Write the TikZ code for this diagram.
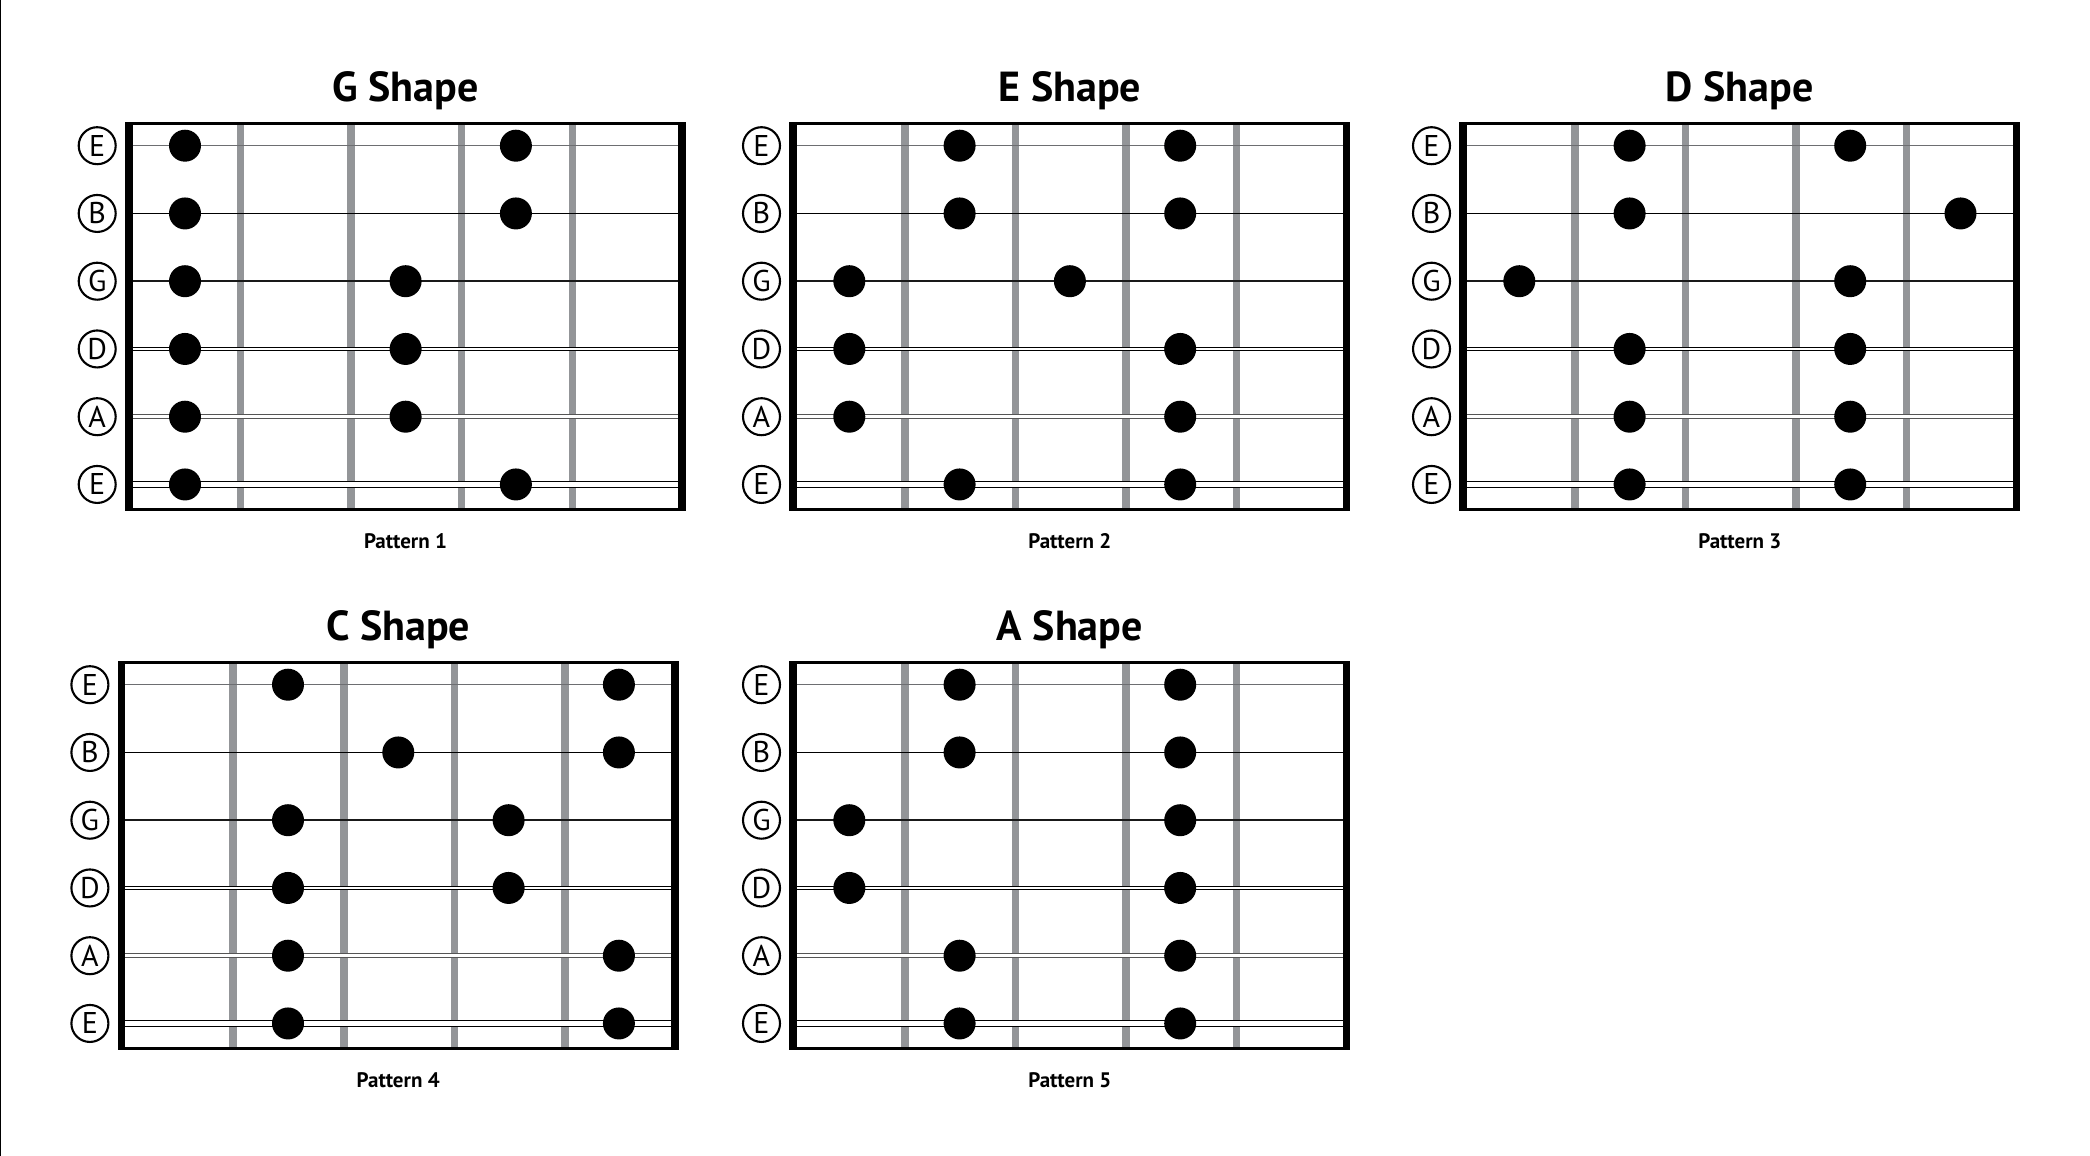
\documentclass[tikz,border=0pt]{standalone}
\usepackage{fontspec}
\setmainfont{PT Sans}
\definecolor{fretgray}{HTML}{939598}
\definecolor{strgray}{HTML}{6D6E71}
\definecolor{agray}{HTML}{555555}
\tikzset{
  fretline/.style={fretgray, line width=7.5pt},
  hiE/.style={strgray, line width=1.2pt},
  Bstr/.style={black, line width=1.8pt},
  Gstr/.style={black!90, line width=2.2pt},
  dotnode/.style={circle, fill=black, draw=none, minimum size=32pt, inner sep=0pt},
  strlab/.style={circle, draw=black, line width=2.1pt, minimum size=37pt, inner sep=0pt,
    font=\fontsize{30}{30}\selectfont},
  titlestyle/.style={font=\bfseries\fontsize{42}{42}\selectfont, inner sep=0pt},
  patstyle/.style={font=\bfseries\fontsize{21}{21}\selectfont, inner sep=0pt},
}
% #1 name, #2 x, #3 y, #4 title, #5 pattern label, #6 dots string/column
\newcommand{\fboard}[6]{%
  \begin{scope}[shift={(#2,#3)}]
    \fill[black] (0,0) rectangle (561,389);
    \fill[white] (7.6,3.3) rectangle (553.4,386);
    \foreach \k in {1,...,4}
      \draw[fretline] ({115.5+110.6*(\k-1)},3.3) -- ({115.5+110.6*(\k-1)},386);
    % strings
    \draw[hiE] (7.6,24) -- (553.4,24);
    \draw[Bstr] (7.6,91.75) -- (553.4,91.75);
    \draw[Gstr] (7.6,159.5) -- (553.4,159.5);
    \draw[black, line width=4.6pt] (7.6,227.25) -- (553.4,227.25);
    \draw[white, line width=2.4pt] (7.6,227.25) -- (553.4,227.25);
    \draw[agray, line width=5pt] (7.6,295) -- (553.4,295);
    \draw[white, line width=2.6pt] (7.6,295) -- (553.4,295);
    \draw[black, line width=7.4pt] (7.6,362.75) -- (553.4,362.75);
    \draw[white, line width=5.2pt] (7.6,362.75) -- (553.4,362.75);
    % string labels
    \foreach \i/\l in {1/E,2/B,3/G,4/D,5/A,6/E}
      \node[strlab] (#1-lab\i) at (-27.8,{24+67.75*(\i-1)}) {\l};
    % dots
    \foreach \s/\c in {#6}
      \node[dotnode] (#1-d\s\c) at ({60+110.3*(\c-1)},{24+67.75*(\s-1)}) {};
    \node[titlestyle, anchor=base] (#1-title) at (280.5,-20) {#4};
    \node[patstyle, anchor=base] (#1-pat) at (280.5,427) {#5};
  \end{scope}}
\begin{document}
\begin{tikzpicture}[x=1pt, y=-1pt]
  \fill[white] (0,0) rectangle (2090,1156);
  \useasboundingbox (0,0) rectangle (2090,1156);
  \draw[black, line width=1.2pt] (0.6,0) -- (0.6,1156);
  \fboard{g}{125}{121.7}{G Shape}{Pattern 1}{1/1,1/4,2/1,2/4,3/1,3/3,4/1,4/3,5/1,5/3,6/1,6/4}
  \fboard{e}{789.3}{121.7}{E Shape}{Pattern 2}{1/2,1/4,2/2,2/4,3/1,3/3,4/1,4/4,5/1,5/4,6/2,6/4}
  \fboard{d}{1459.3}{121.7}{D Shape}{Pattern 3}{1/2,1/4,2/2,2/5,3/1,3/4,4/2,4/4,5/2,5/4,6/2,6/4}
  \fboard{c}{117.7}{660.7}{C Shape}{Pattern 4}{1/2,1/5,2/3,2/5,3/2,3/4,4/2,4/4,5/2,5/5,6/2,6/5}
  \fboard{a}{789.3}{660.7}{A Shape}{Pattern 5}{1/2,1/4,2/2,2/4,3/1,3/4,4/1,4/4,5/2,5/4,6/2,6/4}
\end{tikzpicture}
\end{document}
